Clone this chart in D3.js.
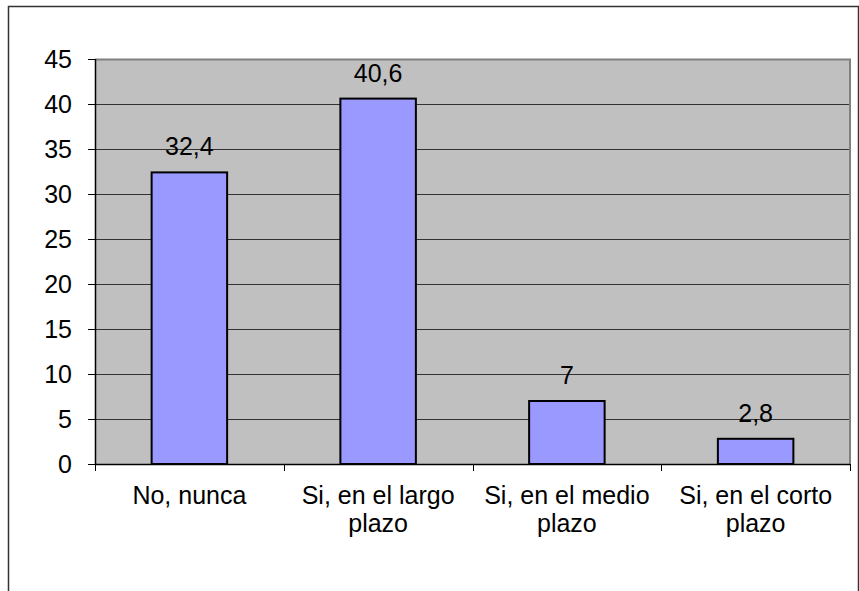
<!DOCTYPE html>
<html>
<head>
<meta charset="utf-8">
<script src="https://cdn.jsdelivr.net/npm/d3@7"></script>
<style>
  body { margin: 0; background: #fff; }
  text { font-family: "Liberation Sans", Arial, sans-serif; }
</style>
</head>
<body>
<svg id="svg1" width="859" height="591"></svg>
<script>
"use strict";

// chart data
const categories = ["No, nunca", "Si, en el largo plazo", "Si, en el medio plazo", "Si, en el corto plazo"];
const values = [32.4, 40.6, 7, 2.8];
const valueLabels = ["32,4", "40,6", "7", "2,8"];
const yTicks = [0, 5, 10, 15, 20, 25, 30, 35, 40, 45];

const svg = d3.select("#svg1");
const margin = {top: 59, right: 9, bottom: 127, left: 95};
const width = 859 - margin.left - margin.right;
const height = 591 - margin.top - margin.bottom;

// outer frame
svg.append("rect")
  .attr("x", 8.5).attr("y", 6.5)
  .attr("width", 850).attr("height", 620)
  .attr("fill", "none").attr("stroke", "#333").attr("stroke-width", 1.5);

const g = svg.append("g").attr("transform", `translate(${margin.left},${margin.top})`);

const x = d3.scaleBand().domain(categories).range([0, width]).paddingInner(0).paddingOuter(0);
const y = d3.scaleLinear().domain([0, 45]).range([height, 0]);

// plot background
g.append("rect")
  .attr("width", width).attr("height", height)
  .attr("fill", "#c0c0c0");

// gridlines
g.selectAll(".grid")
  .data(yTicks.filter(d => d > 0 && d < 45))
  .enter().append("line")
  .attr("x1", 0).attr("x2", width)
  .attr("y1", d => Math.round(y(d)) + 0.5).attr("y2", d => Math.round(y(d)) + 0.5)
  .attr("stroke", "#333").attr("stroke-width", 1);

// plot border top/right
g.append("path")
  .attr("d", `M0,0.5H${width}V${height}`)
  .attr("fill", "none").attr("stroke", "#808080").attr("stroke-width", 2);

// bars
const barW = x.bandwidth() * 0.4;
g.selectAll(".bar")
  .data(values)
  .enter().append("rect")
  .attr("class", "bar")
  .attr("x", (d, i) => x(categories[i]) + (x.bandwidth() - barW) / 2)
  .attr("y", d => y(d))
  .attr("width", barW)
  .attr("height", d => height - y(d))
  .attr("fill", "#9999ff")
  .attr("stroke", "#000").attr("stroke-width", 2);

// value labels
g.selectAll(".val")
  .data(values)
  .enter().append("text")
  .attr("x", (d, i) => x(categories[i]) + x.bandwidth() / 2)
  .attr("y", d => y(d) - 17)
  .attr("text-anchor", "middle")
  .style("font-size", "25px")
  .attr("fill", "#000")
  .text((d, i) => valueLabels[i]);

// y axis
const yAxis = g.append("g")
  .call(d3.axisLeft(y).tickValues(yTicks).tickSize(7).tickPadding(16).tickFormat(d3.format("d")));
yAxis.select(".domain").attr("stroke", "#000").attr("stroke-width", 1.5).attr("d", `M0.5,0V${height}`);
yAxis.selectAll(".tick line").attr("stroke", "#000");
yAxis.selectAll(".tick text").style("font-size", "25px").attr("fill", "#000")
  .attr("font-family", "Liberation Sans, Arial, sans-serif");

// x axis
const xAxis = g.append("g")
  .attr("transform", `translate(0,${height})`)
  .call(d3.axisBottom(x).tickSize(0).tickPadding(22));
xAxis.select(".domain").attr("stroke", "#000").attr("stroke-width", 1.5).attr("d", `M0,0.5H${width}`);
xAxis.selectAll(".tick text").style("font-size", "25px").attr("fill", "#000")
  .attr("font-family", "Liberation Sans, Arial, sans-serif")
  .call(wrap, x.bandwidth() - 14);

// category separator ticks
xAxis.selectAll(".sep")
  .data(d3.range(categories.length + 1))
  .enter().append("line")
  .attr("x1", i => Math.round(i * x.bandwidth()) + 0.5)
  .attr("x2", i => Math.round(i * x.bandwidth()) + 0.5)
  .attr("y1", 0).attr("y2", 7)
  .attr("stroke", "#000");

function wrap(text, w) {
  text.each(function() {
    let t = d3.select(this),
        words = t.text().split(/\s+/).reverse(),
        word,
        line = [],
        lineNumber = 0,
        lineHeight = 1.12, // ems
        y0 = t.attr("y"),
        dy = 0.71,
        tspan = t.text(null).append("tspan").attr("x", 0).attr("y", y0).attr("dy", dy + "em");
    while (word = words.pop()) {
      line.push(word);
      tspan.text(line.join(" "));
      if (tspan.node().getComputedTextLength() > w && line.length > 1) {
        line.pop();
        tspan.text(line.join(" "));
        line = [word];
        tspan = t.append("tspan").attr("x", 0).attr("y", y0)
          .attr("dy", (++lineNumber * lineHeight + dy) + "em").text(word);
      }
    }
  });
}
</script>
</body>
</html>
